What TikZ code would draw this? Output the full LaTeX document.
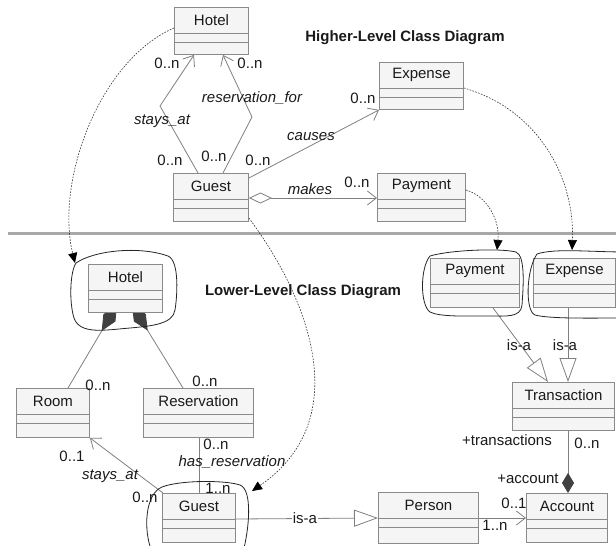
\documentclass[tikz,border=0pt]{standalone}
\usepackage{fontspec}
\setmainfont{Liberation Sans}
\usetikzlibrary{arrows.meta,calc}
\definecolor{boxline}{HTML}{8A8A8A}
\definecolor{boxfill}{HTML}{F5F5F5}
\definecolor{conn}{HTML}{808080}
\definecolor{txt}{HTML}{1A1A1A}
\definecolor{diam}{HTML}{404040}
\definecolor{sep}{HTML}{A8A8A8}
\definecolor{dotc}{HTML}{303030}
\tikzset{
  clsbox/.style={draw=boxline, fill=boxfill, line width=0.9pt, inner sep=0pt, anchor=north west},
  clsname/.style={font=\fontsize{15}{18}\selectfont, text=txt, inner sep=0pt},
  lbl/.style={font=\fontsize{15}{18}\selectfont, text=txt, inner sep=0pt},
  ilbl/.style={font=\fontsize{15}{18}\selectfont\itshape, text=txt, inner sep=0pt},
  ttl/.style={font=\fontsize{15}{18}\selectfont\bfseries, text=txt, inner sep=0pt},
  assoc/.style={draw=conn, line width=0.8pt},
  navarrow/.style={-{Straight Barb[length=9pt,width=14pt]}},
  genarrow/.style={-{Triangle[open,length=24pt,width=17pt,fill=white]}},
  comparrow/.style={-{Diamond[length=30pt,width=14pt,color=diam,fill=diam]}},
  accarrow/.style={-{Diamond[length=20pt,width=12pt,color=diam,fill=diam]}},
  aggnav/.style={{Diamond[length=23pt,width=11pt,fill=white]}-{Straight Barb[length=9pt,width=14pt]}},
  dotlink/.style={draw=dotc, line width=0.6pt, dash pattern=on 1.6pt off 1.4pt, -{Triangle[length=10pt,width=9pt,color=black,fill=black]}},
  cloud/.style={draw=black!85, line width=0.8pt},
}
\newcommand\umlcls[6]{%
  \node[clsbox, minimum width=#4pt, minimum height=#5pt] (#1) at (#2,#3) {};
  \draw[boxline, line width=0.9pt] ($(#1.north west)+(0,26)$) -- ($(#1.north east)+(0,26)$);
  \draw[boxline, line width=0.9pt] ($(#1.north west)+(0,35)$) -- ($(#1.north east)+(0,35)$);
  \node[clsname] (#1-n) at ($(#1.north)+(0,13)$) {#6};
}
\begin{document}
\begin{tikzpicture}[x=1pt,y=-1pt]
\useasboundingbox (0,0) rectangle (616,546);
\fill[white] (0,0) rectangle (616,546);

% separator
\coordinate (sepL) at (8,233);
\coordinate (sepR) at (620,233);
\draw[sep, line width=3pt] (sepL) -- (sepR);

% ---------- classes ----------
\umlcls{HotelA}{174}{7}{74}{47}{Hotel}
\umlcls{GuestA}{173}{173}{75}{48}{Guest}
\umlcls{ExpenseA}{379}{62}{84}{47}{Expense}
\umlcls{PaymentA}{377}{173}{88}{48}{Payment}

% composition lines behind lower hotel
\coordinate (rmTop) at (68,388);
\coordinate (rsTop) at (183,388);
\coordinate (hcL) at (117,305);
\coordinate (hcR) at (132,305);
\draw[assoc, comparrow] (rmTop) -- (hcL);
\draw[assoc, comparrow] (rsTop) -- (hcR);

\umlcls{HotelB}{88}{264}{74}{48}{Hotel}
\umlcls{Room}{16}{388}{73}{49}{Room}
\umlcls{Reservation}{143}{388}{110}{49}{Reservation}
\umlcls{GuestB}{162}{493}{73}{49}{Guest}
\umlcls{PaymentB}{430}{258}{89}{49}{Payment}
\umlcls{ExpenseB}{533}{258}{82}{49}{Expense}
\umlcls{Transaction}{512}{382}{102}{48}{Transaction}
\umlcls{Person}{378}{492}{100}{51}{Person}
\umlcls{Account}{526}{493}{81}{49}{Account}

% ---------- higher-level connectors ----------
\coordinate (bendS) at (160,106);
\coordinate (bendR) at (252,117);
\draw[assoc, navarrow] ($(GuestA.north west)+(25,0)$) -- (bendS) -- ($(HotelA.south west)+(20,0)$);
\draw[assoc, navarrow] ($(GuestA.north west)+(50,0)$) -- (bendR) -- ($(HotelA.south west)+(49,0)$);
\draw[assoc, navarrow] ($(GuestA.north east)+(0,5)$) -- (ExpenseA.south west);
\draw[assoc, aggnav] ($(GuestA.north east)+(0,25)$) -- ($(PaymentA.north west)+(0,25)$);

% ---------- lower-level connectors ----------
\draw[assoc, navarrow] ($(GuestB.north west)+(1,0)$) -- (Room.south east);
\draw[assoc] ($(Reservation.south west)+(56,0)$) -- ($(GuestB.north west)+(37,0)$);
\draw[assoc, genarrow] ($(GuestB.north east)+(0,26)$) -- ($(Person.north west)+(0,26)$);
\draw[assoc, navarrow] ($(Person.north east)+(0,26)$) -- ($(Account.north west)+(0,25)$);
\draw[assoc, accarrow] ($(Transaction.south west)+(56,0)$) -- ($(Account.north west)+(42,0)$);
\draw[assoc, genarrow] ($(PaymentB.south west)+(63,0)$) -- ($(Transaction.north west)+(36,0)$);
\draw[assoc, genarrow] ($(ExpenseB.south west)+(35,0)$) -- ($(Transaction.north west)+(56,0)$);

% ---------- clouds ----------
% hotel
\draw[cloud] (76,263) .. controls (95,250) and (140,246) .. (168,256)
  .. controls (180,261) and (177,298) .. (175,310)
  .. controls (173,324) and (152,326) .. (130,328)
  .. controls (105,330) and (80,335) .. (74,318)
  .. controls (69,302) and (70,272) .. (76,263) -- cycle;
% payment
\draw[cloud] (430,256) .. controls (450,250) and (500,248) .. (516,252)
  .. controls (526,256) and (523,290) .. (522,305)
  .. controls (521,318) and (505,316) .. (490,316)
  .. controls (465,316) and (440,317) .. (430,312)
  .. controls (420,305) and (420,268) .. (430,256) -- cycle;
% expense
\draw[cloud] (537,254) .. controls (555,248) and (590,252) .. (626,252)
  -- (626,318) .. controls (590,318) and (550,319) .. (535,315)
  .. controls (525,311) and (526,270) .. (537,254) -- cycle;
% guest
\draw[cloud] (152,552) .. controls (143,530) and (145,494) .. (162,487)
  .. controls (180,480) and (225,480) .. (240,485)
  .. controls (253,490) and (249,530) .. (243,552);

% ---------- dotted refinement links ----------
\coordinate (hcTip) at (75,263);
\coordinate (gcTip) at (252,491);
\coordinate (ecTip) at (572,250);
\coordinate (pcTip) at (497,250);
\draw[dotlink] ($(HotelA.north west)+(0,21)$) .. controls (100,60) and (55,180) .. (hcTip);
\draw[dotlink] ($(GuestA.north east)+(0,45)$) .. controls (310,300) and (355,420) .. (gcTip);
\draw[dotlink] ($(ExpenseA.north east)+(0,26)$) .. controls (540,110) and (575,180) .. (ecTip);
\draw[dotlink] ($(PaymentA.north east)+(0,17)$) .. controls (487,196) and (500,220) .. (pcTip);

% ---------- titles ----------
\node[ttl] (t1) at (405,38) {Higher-Level Class Diagram};
\node[ttl] (t2) at (303,292) {Lower-Level Class Diagram};

% ---------- higher-level labels ----------
\node[lbl] (a1) at (167,63) {0..n};
\node[lbl] (a2) at (250,63) {0..n};
\node[ilbl] (a3) at (252,98) {reservation\_for};
\node[ilbl] (a4) at (162,121) {stays\_at};
\node[lbl] (a5) at (170,160) {0..n};
\node[lbl] (a6) at (214,156) {0..n};
\node[lbl] (a7) at (258,160) {0..n};
\node[ilbl] (a8) at (311,137) {causes};
\node[lbl] (a9) at (363,98) {0..n};
\node[ilbl] (a10) at (310,189) {makes};
\node[lbl] (a11) at (357,182) {0..n};

% ---------- lower-level labels ----------
\node[lbl] (b1) at (98,385) {0..n};
\node[lbl] (b2) at (205,381) {0..n};
\node[lbl] (b3) at (72,456) {0..1};
\node[ilbl] (b4) at (110,476) {stays\_at};
\node[lbl] (b5) at (145,497) {0..n};
\node[lbl] (b6) at (216,444) {0..n};
\node[ilbl] (b7) at (232,462) {has\_reservation};
\node[lbl] (b8) at (218,488) {1..n};
\node[lbl, fill=white, inner xsep=1pt] (b9) at (305,518) {is-a};
\node[lbl] (b10) at (519,345) {is-a};
\node[lbl] (b11) at (565,345) {is-a};
\node[lbl] (b12) at (507,440) {+transactions};
\node[lbl] (b13) at (587,443) {0..n};
\node[lbl] (b14) at (528,479) {+account};
\node[lbl] (b15) at (514,503) {0..1};
\node[lbl] (b16) at (495,525) {1..n};
\end{tikzpicture}
\end{document}
